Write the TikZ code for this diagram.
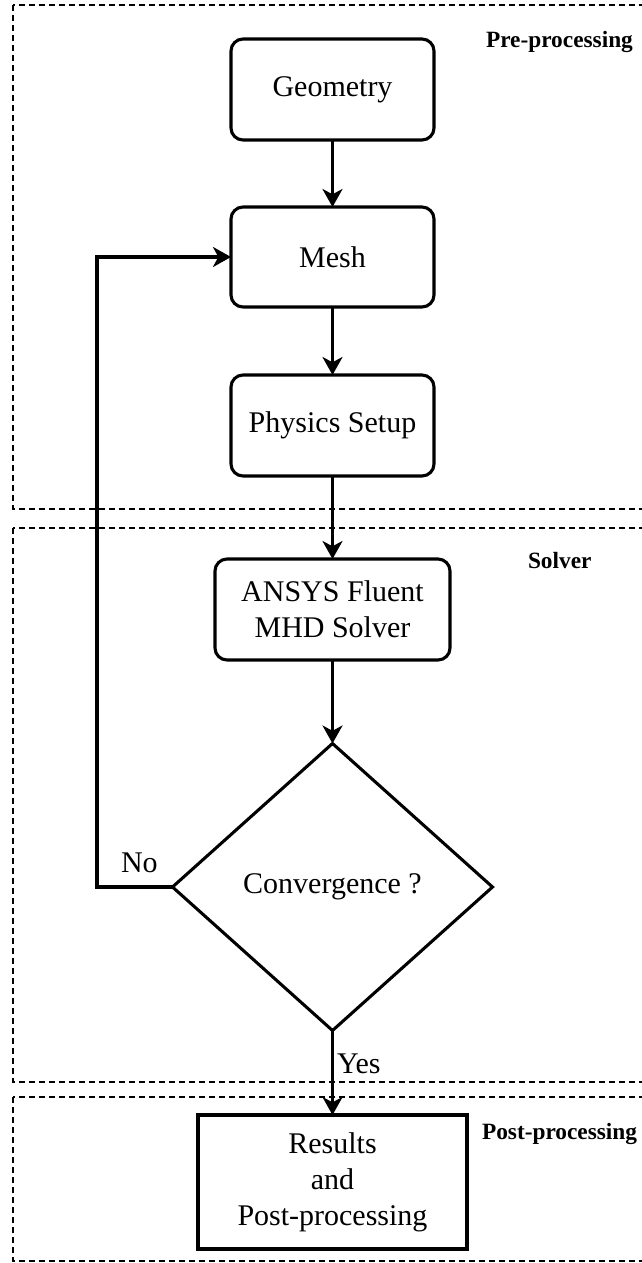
\documentclass[tikz,border=0pt]{standalone}
\usepackage{fontspec}
\setmainfont{Liberation Serif}
\usetikzlibrary{arrows.meta,shapes.geometric,calc}

\begin{document}
\begin{tikzpicture}[x=0.75pt,y=-0.75pt,
  every node/.style={inner sep=0pt, outer sep=0pt},
  txt/.style={font=\fontsize{22.5}{27}\selectfont, align=center},
  stage/.style={txt, draw, line width=2.3pt, rounded corners=9pt, fill=white},
  plainbox/.style={txt, draw, line width=2.3pt, fill=white},
  decision/.style={txt, draw, line width=2.3pt, diamond, fill=white},
  region/.style={draw, line width=1pt, dash pattern=on 4.5pt off 3pt},
  regionlabel/.style={font=\fontsize{17.5}{21}\selectfont\bfseries, anchor=base west},
  flow/.style={line width=2.3pt, -{Stealth[length=13.5pt,width=15pt,inset=4pt]}},
  edgelabel/.style={font=\fontsize{22.5}{27}\selectfont, anchor=base west}
]
\useasboundingbox (0,0) rectangle (642,1263);

% phase frames
\draw[region] (13,5) rectangle (680,509);
\draw[region] (13,528) rectangle (680,1082);
\draw[region] (13,1097) rectangle (680,1261);

\node[regionlabel] (lpre) at (486,48) {Pre-processing};
\node[regionlabel] (lsol) at (528,568) {Solver};
\node[regionlabel] (lpost) at (482,1139) {Post-processing};

% process steps
\node[stage, minimum width=152.25pt, minimum height=75.75pt] (geo) at (332.5,89.5) {Geometry};
\node[stage, minimum width=152.25pt, minimum height=75pt] (mesh) at (332.5,257) {Mesh};
\node[stage, minimum width=152.25pt, minimum height=75.75pt] (phys) at (332.5,425.5) {Physics Setup};
\node[stage, minimum width=176.25pt, minimum height=75.75pt] (solve) at (332.5,609.5) {ANSYS Fluent\\MHD Solver};
\node[decision, minimum width=240pt, minimum height=215.25pt] (conv) at (332.5,887) {Convergence ?};
\node[plainbox, minimum width=201.75pt, minimum height=100.5pt] (res) at (332.5,1182) {Results\\and\\Post-processing};

% connectors
\draw[flow] (geo) -- (mesh);
\draw[flow] (mesh) -- (phys);
\draw[flow] (phys) -- (solve);
\draw[flow] (solve) -- (conv);
\draw[flow] (conv) -- (res);
\coordinate (back) at (97,887);
\draw[flow] (conv.west) -- (back) |- (mesh.west);

\node[edgelabel] (lno) at (121,872) {No};
\node[edgelabel] (lyes) at (337,1073) {Yes};
\end{tikzpicture}
\end{document}
